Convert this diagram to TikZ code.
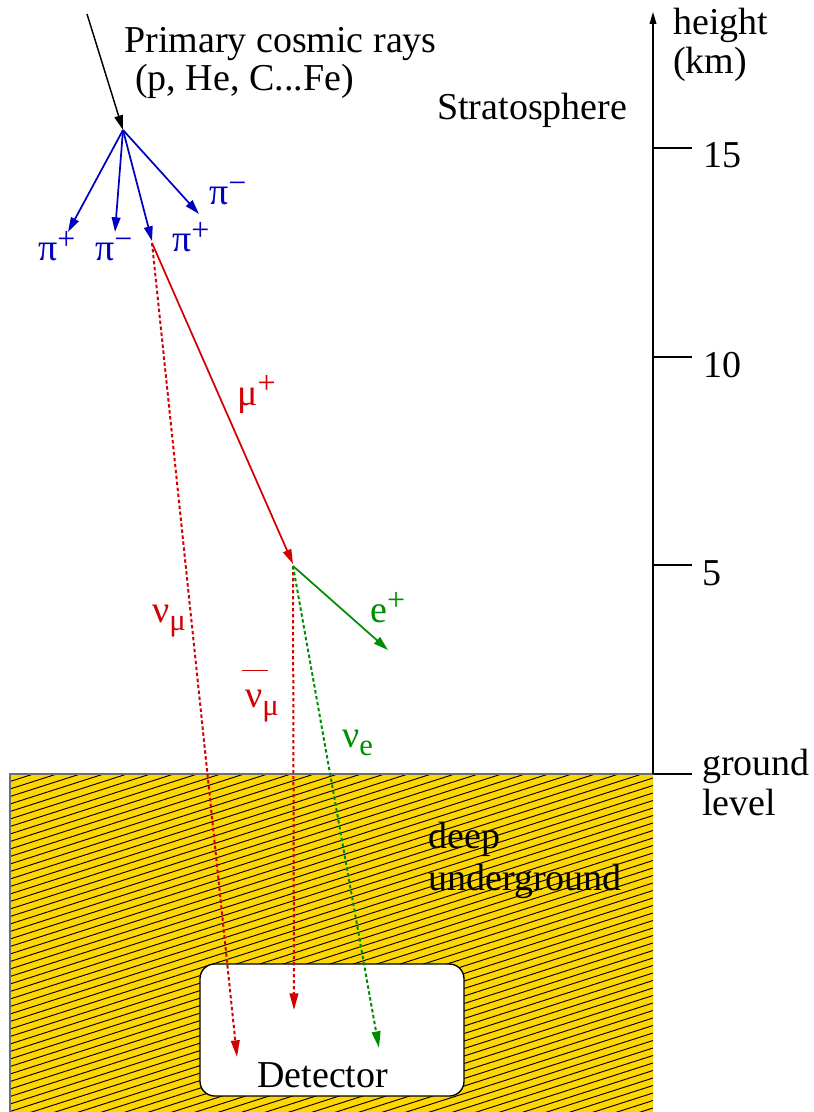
\documentclass[tikz,border=0pt]{standalone}
\usepackage{fontspec}
\setmainfont{Liberation Serif}
\usetikzlibrary{arrows.meta}
\definecolor{pblue}{RGB}{0,0,190}
\definecolor{pred}{RGB}{210,0,0}
\definecolor{pgreen}{RGB}{0,140,0}
\definecolor{pgold}{RGB}{255,215,0}
\definecolor{pgray}{RGB}{110,110,110}
\newcommand{\sps}[1]{\raisebox{0.3em}{\fontsize{24}{24}\selectfont #1}}
\newcommand{\sbs}[1]{\raisebox{-0.22em}{\fontsize{23}{23}\selectfont #1}}
\begin{document}
\begin{tikzpicture}[x=0.75pt,y=-0.75pt,
  lbl/.style={anchor=base west, inner sep=0pt, font=\fontsize{28.5}{30}\selectfont},
  prt/.style={line width=1.3pt, -{Triangle[length=11pt,width=6.5pt]}},
  nudash/.style={line width=1.5pt, dash pattern=on 2.6pt off 1.9pt, -{Triangle[length=12.5pt,width=6.5pt]}},
  tick/.style={line width=1.1pt},
]
\useasboundingbox (0,0) rectangle (813,1112);

% ground
\fill[pgold] (10,774) rectangle (653,1112);
\begin{scope}
  \clip (10,774) rectangle (653,1112);
  \foreach \c in {774,781.5,...,1320} {
    \draw[line width=0.7pt] (10,\c) -- (653,\c-206);
  }
\end{scope}
\draw[pgray, line width=0.9pt] (10,1112) -- (10,774) -- (653,774);

% detector box
\node[draw, line width=1pt, fill=white, rounded corners=11pt, minimum width=198pt, minimum height=99pt, inner sep=0pt] (box) at (332,1030) {};

% axis
\coordinate (ax0) at (653,774);
\coordinate (axtop) at (653,12);
\draw[line width=1.1pt, -{Triangle[length=9pt,width=5pt]}] (ax0) -- (axtop);
\coordinate (k15) at (653,148); \coordinate (k15e) at (692,148);
\coordinate (k10) at (653,357); \coordinate (k10e) at (692,357);
\coordinate (k5) at (653,565);  \coordinate (k5e) at (692,565);
\coordinate (kg) at (653,774);  \coordinate (kge) at (692,774);
\draw[tick] (k15) -- (k15e);
\draw[tick] (k10) -- (k10e);
\draw[tick] (k5) -- (k5e);
\draw[tick] (kg) -- (kge);

% texts
\node[lbl] (prim1) at (124,53) {Primary cosmic rays};
\node[lbl] (prim2) at (135,91) {(p, He, C...Fe)};
\node[lbl] (strat) at (437,120) {Stratosphere};
\node[lbl] (h1) at (673,35) {height};
\node[lbl] (h2) at (673,74) {(km)};
\node[lbl] (t15) at (703,168) {15};
\node[lbl] (t10) at (703,377) {10};
\node[lbl] (t5) at (702,585) {5};
\node[lbl] (g1) at (702,775) {ground};
\node[lbl] (g2) at (702,815) {level};
\node[lbl] (deep) at (428,848) {deep};
\node[lbl] (under) at (428,890) {underground};
\node[lbl] (det) at (257,1087) {Detector};

% particle coordinates
\coordinate (P0) at (87,14);
\coordinate (V) at (123,130);
\coordinate (pA) at (68,232);
\coordinate (pB) at (115,232);
\coordinate (pC) at (152,241);
\coordinate (pD) at (199,214);
\coordinate (M) at (152,243);
\coordinate (D) at (293,564);
\coordinate (D2) at (293,566);
\coordinate (eE) at (388,650);
\coordinate (nmE) at (237,1057);
\coordinate (nbE) at (294,1010);
\coordinate (neE) at (379,1048);

% primary
\draw[prt, line width=1.1pt] (P0) -- (V);
% pions
\draw[prt, pblue] (V) -- (pA);
\draw[prt, pblue] (V) -- (pB);
\draw[prt, pblue] (V) -- (pC);
\draw[prt, pblue] (V) -- (pD);
% muon
\draw[prt, pred] (M) -- (D);
% neutrinos
\draw[nudash, pred] (M) -- (nmE);
\draw[nudash, pred] (D2) -- (nbE);
\draw[nudash, pgreen] (D2) -- (neE);
% positron
\draw[prt, pgreen] (D2) -- (eE);

% particle labels
\node[lbl, pblue] (lpi1) at (38,261) {π\sps{+}};
\node[lbl, pblue] (lpi2) at (95,261) {π\sps{−}};
\node[lbl, pblue] (lpi3) at (172,252) {π\sps{+}};
\node[lbl, pblue] (lpi4) at (209,205) {π\sps{−}};
\node[lbl, pred] (lmu) at (237,405) {μ\sps{+}};
\node[lbl, pred] (lnm) at (152,622) {ν\sbs{μ}};
\node[lbl, pred] (lnb) at (245,707) {\makebox[0pt][l]{\hspace{-0.08em}\raisebox{0.95em}{\rule{0.68em}{0.9pt}}}ν\sbs{μ}};
\node[lbl, pgreen] (le) at (370,622) {e\sps{+}};
\node[lbl, pgreen] (lne) at (342,747) {ν\sbs{e}};
\end{tikzpicture}
\end{document}
